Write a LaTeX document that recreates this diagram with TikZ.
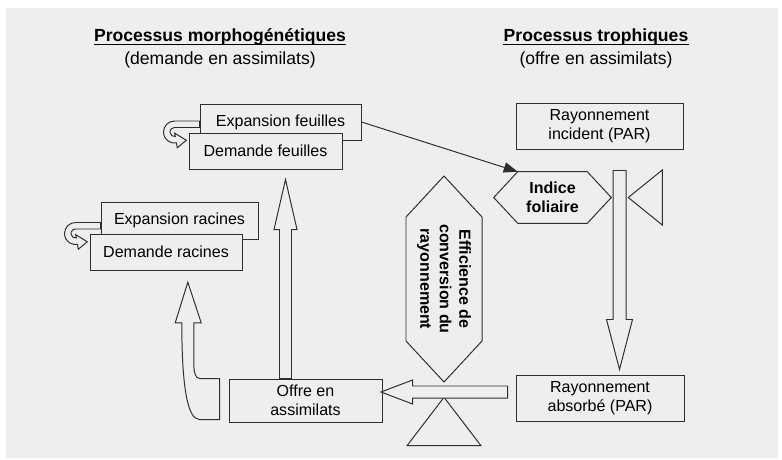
\documentclass[tikz,border=0pt]{standalone}
\usepackage{fontspec}
\setmainfont{Liberation Sans}
\usepackage{tikz}
\usetikzlibrary{
	arrows.meta,
	calc,
}
\definecolor{panel}{HTML}{EEEEEE}
\definecolor{edge}{HTML}{2E2E2E}
\tikzset{box node/.style={
	draw=edge,
	rectangle,
	fill=panel,
	inner sep=0mm,
	minimum height=9mm,
	line width=0.7pt,
	align=center,
	font=\fontsize{11.4}{13.6}\selectfont,
}}
\tikzset{hex node/.style={
	inner sep=0mm,
	align=center,
	font=\bfseries\fontsize{11.4}{13.8}\selectfont,
}}
\tikzset{title node/.style={
	inner sep=0mm,
	font=\fontsize{12.5}{15}\selectfont,
}}
\tikzset{block arrow/.style={
	draw=edge,
	fill=panel,
	line width=0.7pt,
	line join=miter,
}}

\begin{document}
\begin{tikzpicture}

\useasboundingbox (0,0) rectangle (19.55,11.475);
\fill[panel] (0.15,0.025) rectangle (19.45,11.275);

% headings
\node(title1)[title node, anchor=base] at (5.5,10.4375) {\textbf{Processus morphogénétiques}};
\node(sub1)[title node, anchor=base] at (5.5,9.8625) {(demande en assimilats)};
\node(title2)[title node, anchor=base] at (14.9,10.4375) {\textbf{Processus trophiques}};
\node(sub2)[title node, anchor=base] at (14.9,9.8625) {(offre en assimilats)};
\foreach \t in {title1,title2}
\draw[line width=1.05pt] ([yshift=-2.2pt]\t.base west) -- ([yshift=-2.2pt]\t.base east);

\node(expf)[box node, minimum width=4.025cm] at (7.0125,8.425) {Expansion feuilles};
\node(demf)[box node, minimum width=3.825cm] at (6.6375,7.7) {Demande feuilles};
\node(expr)[box node, minimum width=3.925cm, minimum height=9.25mm] at (4.4875,5.9625) {Expansion racines};
\node(demr)[box node, minimum width=3.8cm] at (4.15,5.175) {Demande racines};
\node(radinc)[box node, minimum width=4.175cm, minimum height=11.5mm] at (14.9875,8.325) {Rayonnement\\incident (PAR)};
\node(radabs)[box node, minimum width=4.2cm, minimum height=11.5mm] at (15.0,1.525) {Rayonnement\\absorbé (PAR)};
\node(offre)[box node, minimum width=3.825cm, minimum height=10.75mm] at (7.6375,1.4625) {Offre en\\assimilats};

\node(lai)[hex node, minimum width=1.725cm, minimum height=1.275cm] at (13.8125,6.5375) {Indice\\foliaire};
\node(eff)[hex node, rotate=-90] at (11.1,4.5) {Efficience de\\conversion du\\rayonnement};

\draw[block arrow, fill=none] (lai.north west) -- (lai.north east) -- ([xshift=0.6cm]lai.east)
	-- (lai.south east) -- (lai.south west) -- ([xshift=-0.6cm]lai.west) -- cycle;
\draw[block arrow, fill=none] ($(eff)+(0,2.575)$) -- ++(0.95,-1.025) -- ++(0,-3.1)
	-- ++(-0.95,-1.025) -- ++(-0.95,1.025) -- ++(0,3.1) -- cycle;

% valves
\draw[block arrow, fill=none] ([xshift=1.025cm]lai.east) -- ++(0.85,0.6875) -- ++(0,-1.375) -- cycle;
\draw[block arrow, fill=none] ($(eff)+(0,-2.9575)$) -- ++(0.925,-1.21) -- ++(-1.85,0) -- cycle;

% loops on the expansion boxes
\foreach \n/\dy in {f/-0.25,r/-0.325}{
\coordinate (curl\n) at ([xshift=-0.625cm,yshift=\dy cm]exp\n.west);
\draw[block arrow] ($(curl\n)+(0.625,0.275)$) -- ($(curl\n)+(0,0.275)$)
	arc[start angle=90, end angle=280, radius=0.275cm]
	-- ($(curl\n)+(280:0.4)$) -- ($(curl\n)+(-35:0.36)$) -- ($(curl\n)+(280:0.03)$)
	-- ($(curl\n)+(280:0.1125)$) arc[start angle=280, end angle=90, radius=0.1125cm]
	-- ++(0.625,0) -- cycle;
}

\draw[-{Triangle[length=3.5mm,width=2.6mm]}, line width=0.7pt, edge] (expf.east) -- (lai.north west);

\draw[block arrow] ([xshift=0.3375cm,yshift=-0.525cm]radinc.south) -- ++(0.325,0) -- ++(0,-3.725)
	-- ++(0.1625,0) -- ++(-0.325,-1.25) -- ++(-0.325,1.25) -- ++(0.1625,0) -- cycle;
\draw[block arrow] ([xshift=-0.2cm,yshift=0.3cm]radabs.west) -- ++(-2.375,0) -- ++(0,0.15)
	-- ++(-0.7875,-0.3) -- ++(0.7875,-0.3) -- ++(0,0.15) -- ++(2.375,0) -- cycle;
\draw[block arrow] ([xshift=-0.65cm]offre.north) -- ++(0,3.725) -- ++(-0.1375,0)
	-- ++(0.2875,1.25) -- ++(0.2875,-1.25) -- ++(-0.1375,0) -- ++(0,-3.725) -- cycle;
\draw[block arrow] ([xshift=-0.225cm]offre.north west) -- ++(-0.5,0)
	.. controls +(-0.1,0) and +(0,-0.15) .. ++(-0.1425,0.325)
	-- ++(0,1.0675) -- ++(0.185,0) -- ++(-0.335,1.015) -- ++(-0.315,-1.015) -- ++(0.165,0)
	.. controls +(0,-1.6) and +(-0.3,0) .. ++(0.4425,-2.4175)
	-- ++(0.5,0) -- cycle;

\end{tikzpicture}
\end{document}
